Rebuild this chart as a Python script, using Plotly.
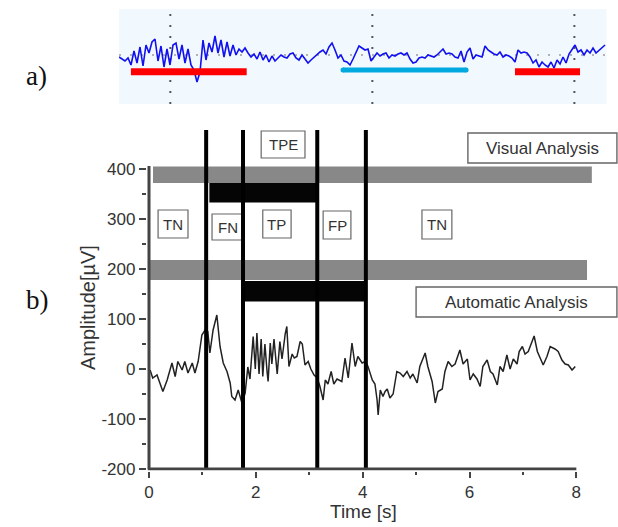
import plotly.graph_objects as go

# ---------------- panel a) : long EEG strip ----------------
a_t0 = 7.46          # s, first sample
a_dt = 0.1485        # s, sample step
a_values = [-2,-4,-6,-3,-10,4,-8,8,-11,10,2,13,16,-6,9,-12,6,-10,10,12,-4,10,-8,6,-10,
            -15,-27,-17,15,-5,12,3,19,2,15,-2,13,-1,10,0,6,3,7,2,-2,1,-4,3,-5,0,-7,-1,-6,-3,
            0,-2,-3,1,2,-3,-5,0,-4,-8,-5,-2,0,3,5,1,8,12,5,-3,0,-6,-7,-10,-4,2,9,7,5,6,
            -6,-2,2,-1,1,2,-3,0,-1,1,2,0,2,-4,-8,-7,-3,-2,-3,0,-1,-2,0,3,6,1,2,
            1,-2,-3,4,-7,3,7,-4,0,-1,-2,9,5,3,1,0,3,-2,0,-1,-3,-7,5,2,3,2,-2,-8,-5,-12,
            -7,-10,-12,-7,-13,-5,-9,-2,-8,1,5,10,3,5,0,5,2,7,2,5,7,10]
a_time = [a_t0 + a_dt * i for i in range(len(a_values))]
a_grid = [10, 20, 30]
a_red_segments = [(8.05, 13.78), (27.06, 30.28)]
a_cyan_segments = [(18.55, 24.64)]
a_red_level = -16.7
a_cyan_level = -15.0

# ---------------- panel b) : detail ----------------
b_time = [0.02,0.07,0.15,0.21,0.26,0.34,0.39,0.43,0.49,0.54,0.62,0.67,0.73,0.81,0.86,0.92,0.99,1.05,1.10,1.14,
          1.20,1.27,1.33,1.39,1.46,1.52,1.55,1.61,1.67,1.74,1.80,1.85,1.89,1.93,1.95,1.99,2.02,2.06,2.10,2.13,
          2.17,2.21,2.23,2.27,2.30,2.34,2.40,2.45,2.49,2.55,2.58,2.62,2.68,2.72,2.77,2.83,2.87,2.92,2.98,3.03,
          3.09,3.15,3.20,3.26,3.30,3.35,3.41,3.46,3.52,3.61,3.67,3.73,3.80,3.86,3.91,3.99,4.05,4.10,4.18,4.23,
          4.27,4.29,4.33,4.38,4.42,4.46,4.51,4.57,4.64,4.70,4.76,4.83,4.89,4.94,5.02,5.07,5.17,5.22,5.30,5.36,
          5.41,5.49,5.54,5.60,5.67,5.73,5.82,5.88,5.96,6.01,6.07,6.14,6.20,6.25,6.33,6.39,6.44,6.52,6.57,6.63,
          6.70,6.76,6.82,6.89,6.93,6.99,7.04,7.10,7.17,7.21,7.27,7.32,7.38,7.45,7.51,7.60,7.66,7.73,7.79,7.85,
          7.92,7.98]
b_amp = [-2,-18,-12,-28,-45,-22,-5,12,-15,15,-2,15,-8,12,-8,15,68,78,75,32,
         78,108,45,12,-5,-28,-55,-62,-42,-68,-48,4,-20,38,65,0,72,-10,60,-15,
         50,-5,-25,52,10,60,-10,55,20,70,85,5,30,22,25,55,50,8,15,0,
         -12,-18,-35,-62,-22,-30,-5,-30,-20,-25,22,-18,52,5,25,12,15,5,-22,-30,
         -62,-92,-42,-55,-45,-40,-58,-50,-5,-8,-15,-5,-18,-10,-28,5,32,5,-25,-68,
         -45,-40,-5,15,5,10,38,10,20,-22,-10,-20,-35,5,18,-5,-10,-32,5,-5,
         28,0,20,10,35,45,30,35,55,66,35,22,8,25,45,40,35,18,10,8,
         -2,5]

boundaries = [1.07, 1.76, 3.15, 4.06]
visual_track = (0.075, 8.29)
visual_event = (1.13, 3.15)
auto_track = (0.0, 8.20)
auto_event = (1.76, 4.07)

region_labels = ["TPE", "TN", "FN", "TP", "FP", "TN"]
region_box_x = [(2.10, 2.92), (0.17, 0.73), (1.18, 1.76), (2.13, 2.66), (3.26, 3.78), (5.11, 5.67)]
region_box_y = [(422, 476), (262, 318), (258, 310), (262, 318), (260, 316), (260, 318)]
analysis_labels = ["Visual Analysis", "Automatic Analysis"]
analysis_box_x = [(5.97, 8.76), (5.00, 8.76)]
analysis_box_y = [(412, 472), (104, 164)]

x_ticks = [0, 2, 4, 6, 8]
x_minor = [1, 3, 5, 7]
y_ticks = [-200, -100, 0, 100, 200, 300, 400]
y_tick_text = ["-200", "-100", "0", "100", "200", "300", "400"]
y_minor = [-150, -50, 50, 150, 250, 350]

# ---------------- figure ----------------
W, H = 618, 527
SANS = "Liberation Sans, Arial, sans-serif"
SERIF = "Liberation Serif, Times New Roman, serif"
AX = "#444444"

fig = go.Figure()

# panel a
fig.add_shape(type="rect", xref="x2", yref="y2", x0=7.46, x1=31.60, y0=-49, y1=46,
              fillcolor="#F2F9FE", line_width=0, layer="below")
for g in a_grid:
    fig.add_shape(type="line", xref="x2", yref="y2", x0=g, x1=g, y0=-49, y1=46,
                  line=dict(color="#555555", width=2, dash="2px,9px"), layer="below")
fig.add_shape(type="line", xref="x2", yref="y2", x0=7.46, x1=31.60, y0=0, y1=0,
              line=dict(color="#9a9a9a", width=1.5, dash="2px,9px"), layer="below")
fig.add_trace(go.Scatter(x=a_time, y=a_values, mode="lines", xaxis="x2", yaxis="y2",
                         line=dict(color="#1010F0", width=1.6), showlegend=False, hoverinfo="skip"))
for s0, s1 in a_red_segments:
    fig.add_trace(go.Scatter(x=[s0, s1], y=[a_red_level, a_red_level], mode="lines",
                             xaxis="x2", yaxis="y2", line=dict(color="#FF0000", width=7),
                             showlegend=False, hoverinfo="skip"))
for s0, s1 in a_cyan_segments:
    fig.add_trace(go.Scatter(x=[s0, s1], y=[a_cyan_level, a_cyan_level], mode="lines+markers",
                             xaxis="x2", yaxis="y2", line=dict(color="#00A8E0", width=5),
                             marker=dict(color="#00A8E0", size=5), showlegend=False, hoverinfo="skip"))

# panel b bars
def band(x01, y0, y1, color):
    fig.add_shape(type="rect", xref="x", yref="y", x0=x01[0], x1=x01[1], y0=y0, y1=y1,
                  fillcolor=color, line_width=0, layer="above")

band(visual_track, 372, 405, "#888888")
band(visual_event, 333, 372, "#050505")
band(auto_track, 178, 218, "#888888")
band(auto_event, 135, 176, "#050505")

# label boxes
for lab, bx, by in zip(region_labels, region_box_x, region_box_y):
    fig.add_shape(type="rect", xref="x", yref="y", x0=bx[0], x1=bx[1], y0=by[0], y1=by[1],
                  fillcolor="white", line=dict(color="#666666", width=1.2), layer="above")
    fig.add_annotation(x=(bx[0] + bx[1]) / 2, y=(by[0] + by[1]) / 2, xref="x", yref="y",
                       xanchor="center", yanchor="middle",
                       text=lab, showarrow=False, font=dict(family=SANS, size=15, color="#333333"))
for lab, bx, by in zip(analysis_labels, analysis_box_x, analysis_box_y):
    fig.add_shape(type="rect", xref="x", yref="y", x0=bx[0], x1=bx[1], y0=by[0], y1=by[1],
                  fillcolor="white", line=dict(color="#666666", width=1.4), layer="above")
    fig.add_annotation(x=(bx[0] + bx[1]) / 2, y=(by[0] + by[1]) / 2, xref="x", yref="y",
                       xanchor="center", yanchor="middle",
                       text=lab, showarrow=False, font=dict(family=SANS, size=17, color="#333333"))

# signal
fig.add_trace(go.Scatter(x=b_time, y=b_amp, mode="lines", xaxis="x", yaxis="y",
                         line=dict(color="#222222", width=1.5), showlegend=False, hoverinfo="skip"))

# boundaries
for b in boundaries:
    fig.add_shape(type="line", xref="x", yref="y", x0=b, x1=b, y0=-200, y1=478,
                  line=dict(color="#000000", width=4), layer="above")

# axis lines
fig.add_shape(type="line", xref="x", yref="y", x0=0, x1=0, y0=-201, y1=406,
              line=dict(color=AX, width=3), layer="above")
fig.add_shape(type="line", xref="x", yref="y", x0=-0.02, x1=8.0, y0=-200, y1=-200,
              line=dict(color=AX, width=3), layer="above")

# axis titles and panel letters
def paper_text(px, py, text, size, family, angle=0, color="#333333"):
    fig.add_annotation(x=px / W, y=1 - py / H, xref="paper", yref="paper", text=text,
                       xanchor="center", yanchor="middle", textangle=angle,
                       showarrow=False, font=dict(family=family, size=size, color=color))

paper_text(363, 511, "Time [s]", 19, SANS)
paper_text(88, 308, "Amplitude[µV]", 20, SANS, angle=-90)
paper_text(36, 76, "a)", 27, SERIF, color="#111111")
paper_text(37, 300, "b)", 27, SERIF, color="#111111")

fig.update_layout(
    width=W, height=H, template="none",
    margin=dict(l=0, r=0, t=0, b=0),
    paper_bgcolor="white", plot_bgcolor="rgba(0,0,0,0)",
    showlegend=False,
    xaxis=dict(domain=[146.86 / W, 1.0], range=[-0.04, 8.78], anchor="y",
               tickmode="array", tickvals=x_ticks, ticks="outside", ticklen=6, tickwidth=2,
               tickcolor=AX, showline=False, showgrid=False, zeroline=False, automargin=False,
               tickfont=dict(family=SANS, size=17, color="#333333"),
               minor=dict(tickmode="array", tickvals=x_minor, ticks="outside", ticklen=3,
                          tickwidth=2, tickcolor=AX, showgrid=False)),
    yaxis=dict(domain=[56.5 / H, 403 / H], range=[-203, 490], anchor="x",
               tickmode="array", tickvals=y_ticks, ticktext=y_tick_text, ticks="outside",
               ticklen=7, tickwidth=2,
               tickcolor=AX, showline=False, showgrid=False, zeroline=False, automargin=False,
               tickfont=dict(family=SANS, size=17, color="#333333"),
               minor=dict(tickmode="array", tickvals=y_minor, ticks="outside", ticklen=4,
                          tickwidth=2, tickcolor=AX, showgrid=False)),
    xaxis2=dict(domain=[119 / W, 606.7 / W], range=[7.46, 31.60], anchor="y2",
                visible=False, showgrid=False, zeroline=False),
    yaxis2=dict(domain=[1 - 104 / H, 1 - 9 / H], range=[-49, 46], anchor="x2",
                visible=False, showgrid=False, zeroline=False),
)

fig.write_html("out.html")
